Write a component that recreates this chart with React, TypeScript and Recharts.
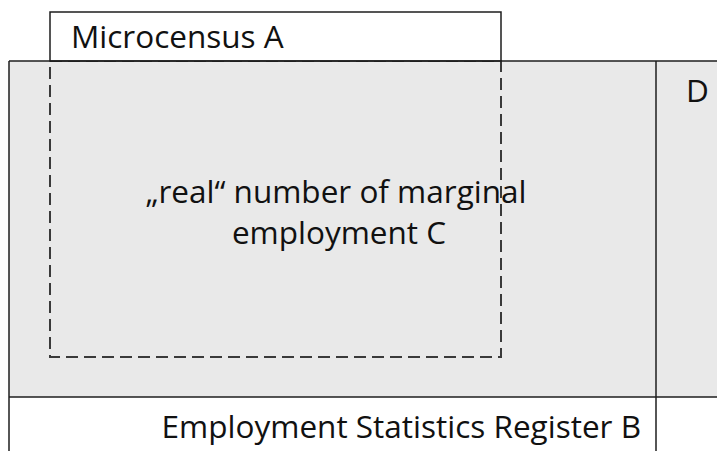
import { ComposedChart, XAxis, YAxis, ReferenceArea, ReferenceLine, Scatter } from "recharts"

// extents of each region, as [x1, x2, y1, y2] on the diagram scale (y grows downward)
const whole = [9, 717, 61, 397]
const microcensusA = [50, 501, 12, 61]
const realC = [50, 501, 61, 357]

// dividing lines, as [x1, y1, x2, y2]
const dividers = [
  [9, 61, 717, 61],
  [9, 61, 9, 451],
  [9, 397, 717, 397],
  [656, 61, 656, 451],
]

// labels
const labelText = ["Microcensus A", "„real“ number of marginal", "employment C", "Employment Statistics Register B", "D"]
const labelX = [71, 336, 339, 641, 686]
const labelY = [48, 203, 244, 438, 102]
const labelAnchor = ["start", "middle", "middle", "end", "start"]

const labels = labelText.map((text, i) => ({ x: labelX[i], y: labelY[i], text, anchor: labelAnchor[i] }))

const LINE = "#1e1e1e"
const FONT = "'Open Sans', sans-serif"

function LabelShape(props: any) {
  const { cx, cy, payload } = props
  return (
    <text x={cx} y={cy} textAnchor={payload.anchor} fontFamily={FONT} fontSize={31.5} fontWeight={400} fill="#111">
      {payload.text}
    </text>
  )
}

export default function App() {
  return (
    <div style={{ position: "absolute", left: 0, top: 0, background: "#fff" }}>
      <ComposedChart width={717} height={451} margin={{ top: 0, right: 0, bottom: 0, left: 0 }} data={labels}>
        <XAxis type="number" dataKey="x" domain={[0, 717]} allowDataOverflow hide />
        <YAxis type="number" dataKey="y" domain={[0, 451]} allowDataOverflow reversed hide />
        <ReferenceArea x1={whole[0]} x2={whole[1]} y1={whole[2]} y2={whole[3]} fill="#e9e9e9" fillOpacity={1} stroke="none" ifOverflow="hidden" />
        <ReferenceArea
          x1={realC[0]}
          x2={realC[1]}
          y1={realC[2]}
          y2={realC[3]}
          fill="none"
          stroke="#3a3a3a"
          strokeWidth={2}
          strokeDasharray="12 6"
          ifOverflow="hidden"
        />
        <ReferenceArea
          x1={microcensusA[0]}
          x2={microcensusA[1]}
          y1={microcensusA[2]}
          y2={microcensusA[3]}
          fill="#fff"
          fillOpacity={1}
          stroke={LINE}
          strokeWidth={1.5}
          ifOverflow="hidden"
        />
        {dividers.map((d, i) => (
          <ReferenceLine
            key={i}
            segment={[{ x: d[0], y: d[1] }, { x: d[2], y: d[3] }]}
            stroke={LINE}
            strokeWidth={1.5}
            ifOverflow="hidden"
          />
        ))}
        <Scatter data={labels} dataKey="y" shape={<LabelShape />} isAnimationActive={false} />
      </ComposedChart>
    </div>
  )
}
